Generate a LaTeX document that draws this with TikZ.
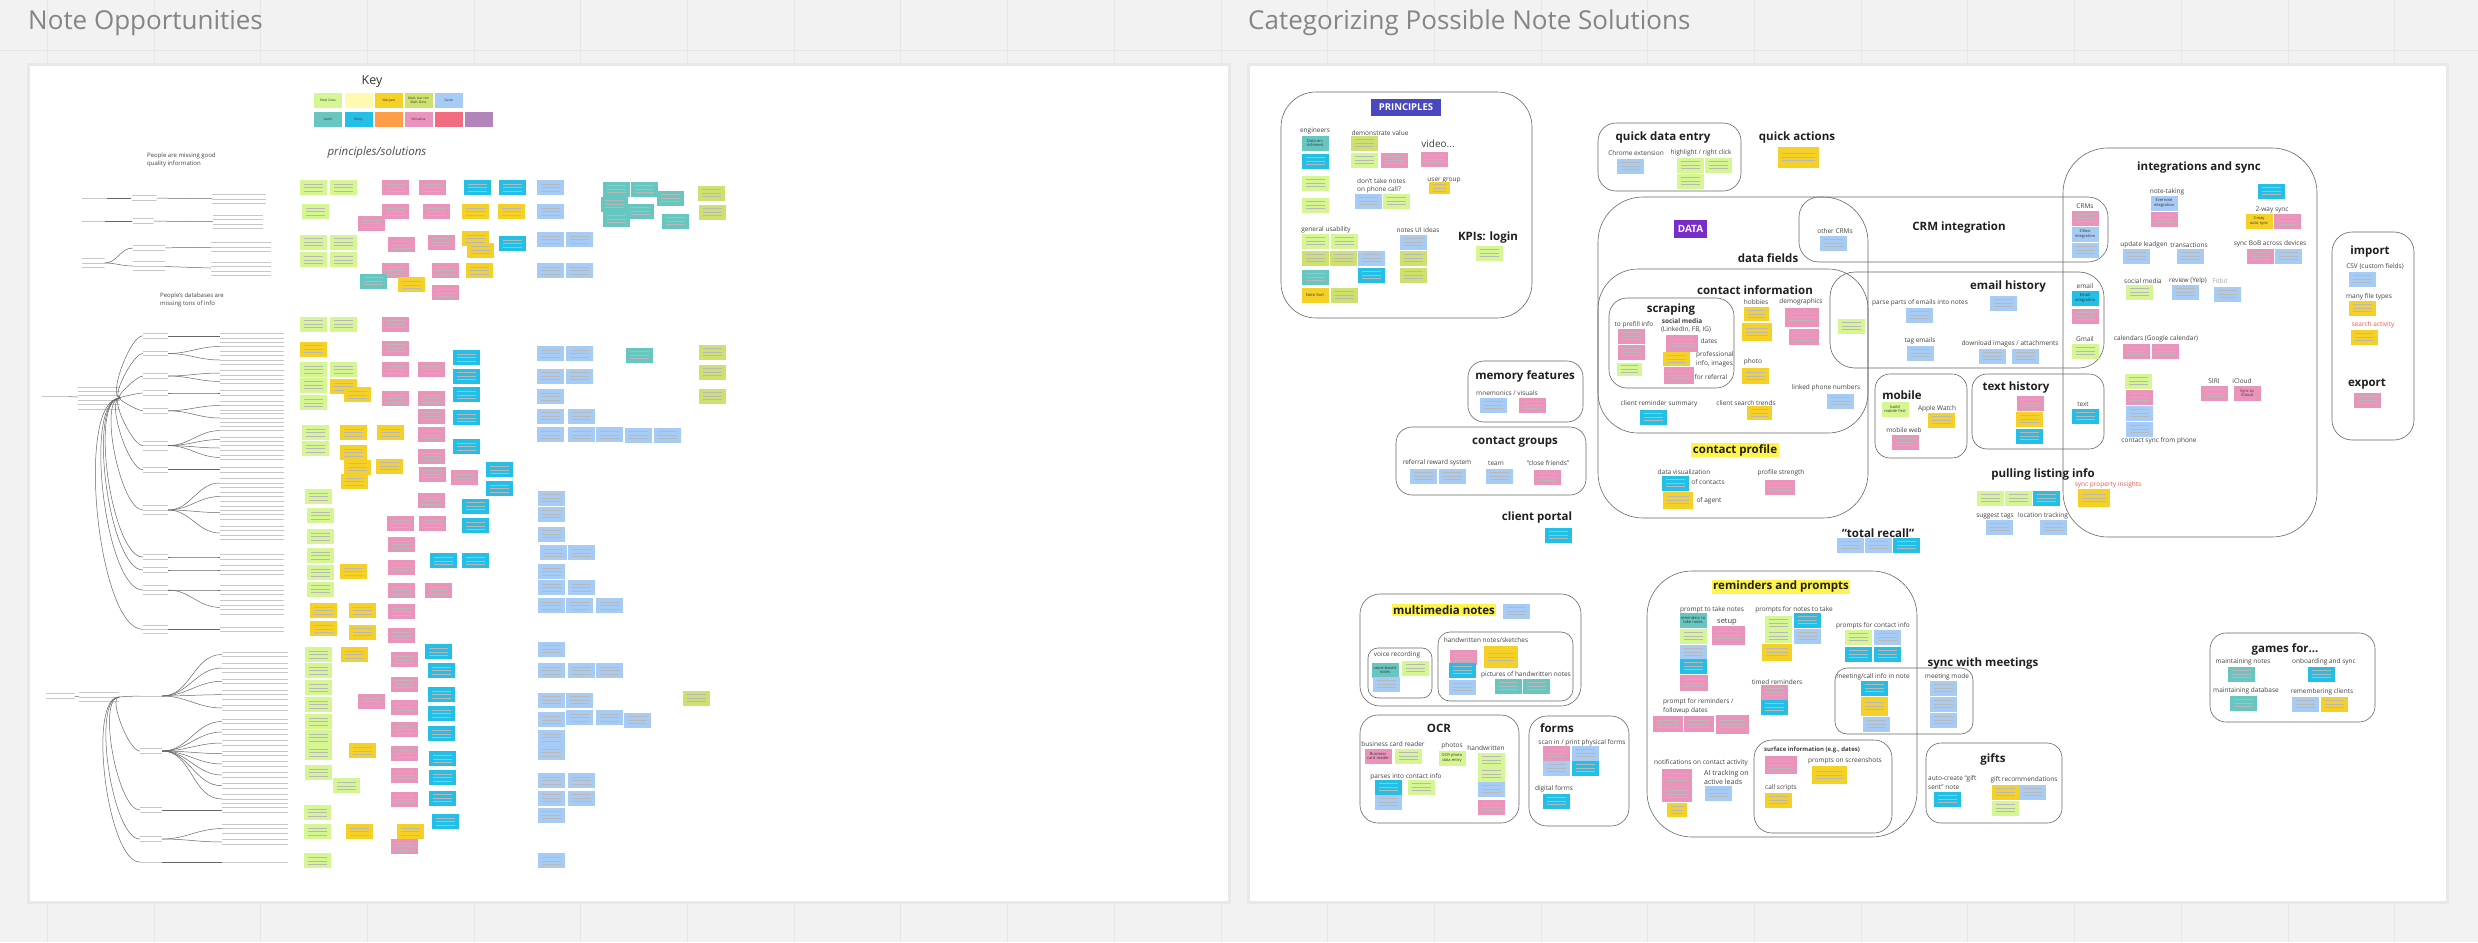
\documentclass[tikz,border=0pt]{standalone}
\usepackage{fontspec}
\setmainfont{Open Sans}
\usetikzlibrary{positioning}
\definecolor{boardGray}{RGB}{242,242,242}
\definecolor{gridGray}{RGB}{230,230,230}
\definecolor{nLime}{RGB}{213,246,146}
\definecolor{nOlive}{RGB}{206,224,110}
\definecolor{nCream}{RGB}{255,249,177}
\definecolor{nGold}{RGB}{245,209,40}
\definecolor{nSky}{RGB}{166,204,245}
\definecolor{nTeal}{RGB}{103,198,192}
\definecolor{nCyan}{RGB}{35,191,231}
\definecolor{nOrange}{RGB}{255,157,72}
\definecolor{nPink}{RGB}{234,148,187}
\definecolor{nRed}{RGB}{241,108,127}
\definecolor{nViolet}{RGB}{179,132,187}
\definecolor{hlYellow}{RGB}{255,243,77}
\definecolor{tagIndigo}{RGB}{73,72,189}
\definecolor{tagPurple}{RGB}{120,44,200}
\definecolor{warnRed}{RGB}{242,85,70}

\begin{document}
\begin{tikzpicture}[x=1pt,y=-1pt,
  note/.style={fill=#1,minimum width=27pt,minimum height=15pt,inner sep=0pt,
    path picture={\foreach \k in {-3.5,0,3.5}{\draw[black!28,line width=0.5pt]
      ([xshift=4pt,yshift=\k pt]path picture bounding box.west) --
      ([xshift=-4pt,yshift=\k pt]path picture bounding box.east);}}},
  tnote/.style={fill=#1,minimum width=27pt,minimum height=15pt,inner sep=0.5pt,
    text width=25pt,align=center,font=\fontsize{4}{4.8}\selectfont,text=black!80},
  keynote/.style={fill=#1,minimum width=28pt,minimum height=15pt,inner sep=0.5pt,
    text width=27pt,align=center,font=\fontsize{3.3}{3.8}\selectfont,text=black!80},
  stub/.style 2 args={fill=white,minimum width=#1pt,minimum height={#2*4.4pt},inner sep=0pt,
    path picture={\foreach \k in {1,...,#2}{\draw[black!22,line width=0.8pt]
      ([yshift={-(\k-0.5)*4.4pt}]path picture bounding box.north west) --
      ([yshift={-(\k-0.5)*4.4pt}]path picture bounding box.north east);}}},
  tree/.style={draw=black!60,line width=0.5pt},
  grp/.style={draw=black!60,line width=0.6pt},
  lbl/.style={font=\fontsize{6.5}{8.7}\selectfont,text=black!75,inner sep=0pt},
  hd/.style={font=\fontsize{11.5}{13}\selectfont\bfseries,text=black!88,inner sep=0pt},
  hl/.style={hd,fill=hlYellow,inner sep=1.5pt},
  tag/.style={fill=#1,text=white,font=\fontsize{9.5}{11}\selectfont\bfseries,inner sep=2.5pt},
  ttl/.style={font=\fontsize{26}{30}\selectfont,text=black!48,inner sep=0pt}]

% board
\useasboundingbox (0,0) rectangle (2478,942);
\fill[boardGray] (0,0) rectangle (2478,942);
\foreach \gx in {47,153.7,...,2478} \draw[gridGray] (\gx,0) -- (\gx,942);
\draw[gridGray] (0,50) -- (2478,50);

\node[ttl,anchor=base west] (ttlLeft) at (28,30) {Note Opportunities};
\node[ttl,anchor=base west] (ttlRight) at (1248,30) {Categorizing Possible Note Solutions};

\fill[black!9] (27,63) rectangle (1231,904);
\fill[white] (30,66) rectangle (1228,901);
\fill[black!9] (1247,63) rectangle (2449,904);
\fill[white] (1250,66) rectangle (2446,901);

%% ---------------- left frame ----------------
\node[font=\fontsize{12.5}{14}\selectfont,text=black!80,inner sep=0pt] (key) at (372,82) {Key};
\node[keynote=nLime] (kMatt) at (328,100.5) {Matt Goss};
\node[keynote=nCream] (kCream) at (358.5,100.5) {};
\node[keynote=nGold] (kMaryam) at (389,100.5) {Maryam};
\node[keynote=nOlive] (kMattB) at (418.5,100.5) {Matt, but not\\Matt Goss};
\node[keynote=nSky] (kSarah) at (449,100.5) {Sarah};
\node[keynote=nTeal] (kSamir) at (328,119.5) {Samir};
\node[keynote=nCyan] (kMolly) at (358.5,119.5) {Molly};
\node[keynote=nOrange] (kOrange) at (389,119.5) {};
\node[keynote=nPink] (kMona) at (418.5,119.5) {Monalisa};
\node[keynote=nRed] (kRed) at (449,119.5) {};
\node[keynote=nViolet] (kViolet) at (479,119.5) {};
\node[font=\fontsize{11.5}{13}\selectfont\itshape,text=black!70,inner sep=0pt] (princSol) at (377,153) {principles/solutions};

\node[lbl,font=\fontsize{6}{8}\selectfont,align=left,anchor=north west] (missGood) at (147,153) {People are missing good\\quality information};
\node[lbl,font=\fontsize{6}{8}\selectfont,align=left,anchor=north west] (missDb) at (160,293) {People's databases are\\missing tons of info};

% tree 1
\node[stub={25}{1}] (t1a) at (94,198) {};
\node[stub={25}{2}] (t1b) at (144,198) {};
\node[stub={54}{3}] (t1c) at (239,199) {};
\node[stub={23}{1}] (t1d) at (93,221) {};
\node[stub={21}{2}] (t1e) at (143,221) {};
\node[stub={50}{4}] (t1f) at (238,222) {};
\node[stub={23}{3}] (t1g) at (93,263) {};
\node[stub={32}{2}] (t1h) at (149,248) {};
\node[stub={32}{3}] (t1i) at (149,266) {};
\node[stub={60}{3}] (t1j) at (241,247) {};
\node[stub={60}{4}] (t1k) at (241,269) {};
\draw[tree] (t1a) -- (t1b);
\draw[tree] (t1b) -- (t1c);
\draw[tree] (t1d) -- (t1e);
\draw[tree] (t1e) -- (t1f);
\draw[tree] (t1g.east) to[out=0,in=180] (t1h.west);
\draw[tree] (t1g.east) to[out=0,in=180] (t1i.west);
\draw[tree] (t1h) -- (t1j);
\draw[tree] (t1i) -- (t1k);

% tree 2
\node[stub={27}{1}] (r2) at (55,396) {};
\node[stub={42}{6}] (b2) at (99,398) {};
\draw[tree] (r2) -- (b2);
\foreach \y/\n [count=\j] in {335.8/2,353.5/2,376/2,393/2,410.8/2,445.6/3,469.7/2,510/3,557/2,570/2,590/3,629.4/3}{
  \node[stub={25}{\n}] (q\j) at (155.5,\y) {};
  \draw[tree] (b2.east) to[out=180,in=180,looseness=0.5] (q\j.west);
}
\foreach \s/\y/\n [count=\k] in {1/335.8/2,2/346.5/3,2/360/3,3/373/2,3/381.4/2,4/393/2,5/405.5/3,5/418/3,
    6/430.6/3,6/439.5/2,6/448/2,6/457.4/2,7/469.7/2,8/483/3,8/496.5/3,8/512.6/4,8/533/4,9/557/2,10/570/3,
    11/590/3,11/607.4/4,12/629.4/2}{
  \node[stub={64}{\n}] (w\k) at (252,\y) {};
  \draw[tree] (q\s.east) to[out=0,in=180] (w\k.west);
}

% tree 3
\node[stub={29}{2}] (r3) at (60,696) {};
\node[stub={40}{3}] (b3) at (99,697) {};
\draw[tree] (r3) -- (b3);
\foreach \y/\n [count=\j] in {696/1,751/2,810/2,839/2,862/1}{
  \node[stub={22}{\n}] (u\j) at (151,\y) {};
  \draw[tree] (b3.east) to[out=180,in=180,looseness=0.5] (u\j.west);
}
\foreach \s/\y/\n [count=\k] in {1/654.5/2,1/668/3,1/681.3/2,1/694.7/3,1/708/2,2/721.5/2,2/732/2,2/743/2,
    2/753.6/2,2/764/2,2/775/2,2/785.7/2,2/799/3,3/810/2,4/828.6/3,4/842/2,5/862/1}{
  \node[stub={66}{\n}] (v\k) at (255,\y) {};
  \draw[tree] (u\s.east) to[out=0,in=180] (v\k.west);
}

% sticky notes, left frame
\foreach \x/\y/\c [count=\i] in {740/238/nLime,818/238/nLime,745/283/nLime,955/238/nPink,1052/238/nPink,
    1170/238/nCyan,1260/238/nCyan,1360/238/nSky,955/283/nPink,1062/283/nPink,893/305/nPink,1165/283/nGold,
    1258/283/nGold,1360/283/nSky,740/340/nLime,818/340/nLime,970/345/nPink,1075/340/nPink,1165/333/nGold,
    1178/355/nGold,1262/343/nCyan,1360/335/nSky,1435/335/nSky,740/373/nLime,818/373/nLime,955/393/nPink,
    1085/393/nPink,1175/393/nGold,1360/393/nSky,1435/393/nSky,897/413/nTeal,997/420/nGold,1085/435/nPink}
  \node[note=\c] (la\i) at ({30+\x/2.613},{60+\y/1.867}) {};
\foreach \x/\y/\c [count=\i] in {740/493/nLime,818/493/nLime,955/493/nPink,740/540/nGold,955/538/nPink,
    742/578/nLime,818/578/nLime,955/578/nPink,1050/578/nPink,1140/555/nCyan,1140/590/nCyan,1360/548/nSky,
    1435/548/nSky,818/610/nGold,855/625/nGold,742/607/nLime,1360/590/nSky,1435/590/nSky,955/632/nPink,
    1050/632/nPink,1140/625/nCyan,1360/628/nSky,742/640/nLime,1050/665/nPink,1140/668/nCyan,1360/665/nSky,
    1440/665/nSky,745/695/nLime,845/695/nGold,942/695/nGold,1050/700/nPink,1360/700/nSky,1440/700/nSky,
    1515/700/nSky,745/725/nLime,845/733/nGold,1050/740/nPink,1140/722/nCyan,855/760/nGold,940/758/nGold,
    1228/765/nCyan,848/787/nGold,1052/773/nPink,1135/780/nPink,1228/800/nCyan,755/815/nLime,1050/822/nPink,
    1362/818/nSky,1165/833/nCyan,1165/870/nCyan,758/850/nLime,967/865/nPink,1052/865/nPink,1362/848/nSky,
    758/890/nLime,970/905/nPink,1362/885/nSky,758/925/nLime,1080/935/nCyan,1165/935/nCyan,1368/920/nSky,
    1440/920/nSky,758/957/nLime,845/955/nGold,970/947/nPink,1362/955/nSky,758/988/nLime,970/990/nPink,
    1068/990/nPink,1362/985/nSky,1440/985/nSky,768/1028/nGold,870/1028/nGold,970/1030/nPink,1362/1018/nSky,
    1435/1018/nSky,1515/1018/nSky,768/1062/nGold,870/1068/nGold,970/1075/nPink}
  \node[note=\c] (lb\i) at ({30+\x/2.613},{60+\y/1.867}) {};
\foreach \x/\y/\c [count=\i] in {755/1110/nLime,848/1110/nGold,1068/1105/nCyan,1362/1100/nSky,978/1120/nPink,
    1075/1140/nCyan,755/1140/nLime,1362/1140/nSky,1440/1140/nSky,1515/1140/nSky,755/1172/nLime,978/1165/nPink,
    1075/1185/nCyan,893/1198/nPink,755/1203/nLime,1362/1195/nSky,1435/1195/nSky,978/1208/nPink,1075/1220/nCyan,
    755/1235/nLime,1362/1232/nSky,1435/1228/nSky,1515/1228/nSky,978/1250/nPink,1075/1258/nCyan,1362/1265/nSky,
    755/1265/nLime,755/1293/nLime,868/1290/nGold,978/1295/nPink,1362/1293/nSky,1078/1305/nCyan,755/1330/nLime,
    978/1335/nPink,1078/1340/nCyan,828/1355/nLime,1362/1345/nSky,1440/1345/nSky,978/1380/nPink,1078/1378/nCyan,
    1362/1378/nSky,1440/1378/nSky,752/1405/nLime,1362/1410/nSky,752/1440/nLime,862/1440/nGold,993/1440/nGold,
    1085/1422/nCyan,978/1468/nPink,750/1495/nLime,1362/1495/nSky}
  \node[note=\c] (lc\i) at ({30+\x/2.613},{60+\y/1.867}) {};
\foreach \x/\y/\c [count=\i] in {616/189/nTeal,644/189/nTeal,670/198/nTeal,614/204/nTeal,640/211/nTeal,
    616/219/nTeal,675/221/nTeal,711/193/nOlive,712/212/nOlive,639/355/nTeal,712/352/nOlive,712/372/nOlive,
    712/396/nOlive,638/435/nSky,667/435/nSky,696/698/nOlive,637/720/nSky}
  \node[note=\c] (ld\i) at (\x,\y) {};

%% ---------------- right frame ----------------
% group outlines
\draw[grp,rounded corners=35pt] (1281,92) rectangle (1532,318);
\draw[grp,rounded corners=18pt] (1598,123) rectangle (1741,191);
\draw[grp,rounded corners=45pt] (1598,197) rectangle (1868,518);
\draw[grp,rounded corners=20pt] (1799,197) rectangle (2108,262);
\draw[grp,rounded corners=25pt] (1830,272) rectangle (2104,368);
\draw[grp,rounded corners=45pt] (2063,148) rectangle (2317,537);
\draw[grp,rounded corners=40pt] (1598,269) rectangle (1868,433);
\draw[grp,rounded corners=18pt] (1609,298) rectangle (1734,388);
\draw[grp,rounded corners=15pt] (1875,374) rectangle (1967,458);
\draw[grp,rounded corners=15pt] (1972,374) rectangle (2104,449);
\draw[grp,rounded corners=20pt] (2332,232) rectangle (2414,440);
\draw[grp,rounded corners=16pt] (1468,361) rectangle (1583,422);
\draw[grp,rounded corners=16pt] (1396,427) rectangle (1586,495);
\draw[grp,rounded corners=20pt] (1360,594) rectangle (1581,706);
\draw[grp,rounded corners=10pt] (1368,648) rectangle (1432,698);
\draw[grp,rounded corners=12pt] (1438,632) rectangle (1573,701);
\draw[grp,rounded corners=18pt] (1360,715) rectangle (1519,823);
\draw[grp,rounded corners=18pt] (1529,716) rectangle (1629,826);
\draw[grp,rounded corners=45pt] (1647,571) rectangle (1917,837);
\draw[grp,rounded corners=18pt] (1754,740) rectangle (1892,833);
\draw[grp,rounded corners=12pt] (1835,668) rectangle (1973,734);
\draw[grp,rounded corners=15pt] (1926,743) rectangle (2062,823);
\draw[grp,rounded corners=16pt] (2210,633) rectangle (2375,722);

% principles
\node[tag=tagIndigo,minimum width=70pt,minimum height=17pt] (principles) at (1406,107.5) {PRINCIPLES};
\node[lbl] (engineers) at (1315,131) {engineers};
\node[lbl] (demoValue) at (1380,133) {demonstrate value};
\node[lbl,font=\fontsize{10}{11}\selectfont] (video) at (1438,144) {video...};
\node[lbl,align=left,anchor=north west] (phoneCall) at (1357,178) {don't take notes\\on phone call?};
\node[lbl] (userGroup) at (1444,181) {user group};
\node[lbl] (usability) at (1326,230) {general usability};
\node[lbl] (uiIdeas) at (1418,230) {notes UI ideas};
\node[hd] (kpis) at (1488,238) {KPIs: login};
\node[tnote=nTeal] (dataEnrich) at (1315,143) {Data enrichment};
\node[tnote=nGold] (noteSort) at (1315,295) {Note Sort};
\foreach \x/\y/\c [count=\i] in {1315/161/nCyan,1315/183/nLime,1315/205/nLime,1364/143/nOlive,1364/160/nLime,
    1394/160/nPink,1434/159/nPink,1368/201/nSky,1396/201/nLime,1315/241/nLime,1344/241/nLime,1315/258/nOlive,
    1343/258/nOlive,1371/258/nSky,1315/277/nTeal,1371/275/nCyan,1344/295/nOlive,1413/242/nSky,1413/258/nOlive,
    1413/275/nOlive,1489/253/nLime}
  \node[note=\c] (pr\i) at (\x,\y) {};
\node[note=nGold,minimum width=21pt,minimum height=12pt] (userNote) at (1439,188) {};

% quick data entry, quick actions
\node[hd] (quickEntry) at (1663,138) {quick data entry};
\node[lbl] (chromeExt) at (1636,153) {Chrome extension};
\node[lbl] (highlight) at (1701,153) {highlight / right click};
\node[note=nSky] (qe1) at (1630,166) {};
\node[note=nLime] (qe2) at (1690,165) {};
\node[note=nLime] (qe3) at (1718,165) {};
\node[note=nLime] (qe4) at (1690,181) {};
\node[hd] (quickAct) at (1797,138) {quick actions};
\node[note=nGold,minimum width=41pt,minimum height=21pt] (qa1) at (1798,157) {};

% data
\node[tag=tagPurple,minimum width=33pt,minimum height=18pt,font=\fontsize{10}{11}\selectfont\bfseries] (data) at (1690.5,229) {DATA};
\node[hd] (dataFields) at (1768,258) {data fields};
\node[hd] (crmInt) at (1959,228) {CRM integration};
\node[lbl] (otherCrm) at (1835,231) {other CRMs};
\node[note=nSky] (oc1) at (1833,243) {};
\node[lbl] (crms) at (2085,206) {CRMs};
\node[note=nPink] (cr1) at (2085,218) {};
\node[tnote=nSky] (zillow) at (2085,234) {Zillow integration};
\node[note=nSky] (cr2) at (2085,250) {};

% email history
\node[hd] (emailHist) at (2008,287) {email history};
\node[lbl] (parseMail) at (1920,303) {parse parts of emails into notes};
\node[lbl] (tagMail) at (1920,341) {tag emails};
\node[lbl] (download) at (2010,344) {download images / attachments};
\node[lbl] (emailLbl) at (2085,286) {email};
\node[lbl] (gmail) at (2085,339) {Gmail};
\node[tnote=nCyan] (emailInt) at (2085,298) {Email integration};
\foreach \x/\y/\c [count=\i] in {1851/326/nLime,1919/315/nSky,2003/303/nSky,1920/353/nSky,1992/356/nSky,
    2025/356/nSky,2085/316/nPink,2085/351/nLime}
  \node[note=\c] (em\i) at (\x,\y) {};

% contact information
\node[hd] (contactInfo) at (1755,290) {contact information};
\node[hd] (scraping) at (1671,310) {scraping};
\node[lbl] (prefill) at (1634,325) {to prefill info};
\node[lbl,font=\fontsize{6.5}{8}\selectfont\bfseries] (socialScr) at (1682,321) {social media};
\node[lbl] (linkedin) at (1686,330) {(LinkedIn, FB, IG)};
\node[lbl] (dates) at (1709,341) {dates};
\node[lbl,align=left,anchor=north west] (profInfo) at (1696,351.5) {professional\\info, images};
\node[lbl] (referral) at (1711,377) {for referral};
\node[lbl] (hobbies) at (1756,302) {hobbies};
\node[lbl] (demog) at (1801,302) {demographics};
\node[lbl] (photo) at (1753,362) {photo};
\node[lbl] (phones) at (1826,388) {linked phone numbers};
\node[lbl] (remSummary) at (1659,404) {client reminder summary};
\node[lbl] (searchTrends) at (1746,403) {client search trends};
\foreach \x/\y/\c/\w/\h [count=\i] in {1631/336/nPink/27/15,1631/352/nPink/27/15,1629/369/nLime/25/13,
    1682/343/nPink/32/17,1676/359/nGold/27/14,1679/375/nPink/30/17,1756/314/nGold/25/14,1757/332/nGold/30/18,
    1802/317/nPink/34/19,1804/337/nPink/30/16,1755/376/nGold/27/16,1840/401/nSky/27/15,1653/417/nCyan/27/15,
    1759/413/nGold/25/14}
  \node[note=\c,minimum width=\w pt,minimum height=\h pt] (ci\i) at (\x,\y) {};

% contact profile
\node[hl] (profile) at (1735,450) {contact profile};
\node[lbl] (dataViz) at (1684,472) {data visualization};
\node[lbl] (ofContacts) at (1708,482) {of contacts};
\node[lbl] (ofAgent) at (1709,501) {of agent};
\node[lbl] (strength) at (1781,473) {profile strength};
\node[note=nCyan] (cp1) at (1675,483) {};
\node[note=nGold,minimum width=30pt,minimum height=17pt] (cp2) at (1678,500) {};
\node[note=nPink,minimum width=30pt] (cp3) at (1780,487) {};

% mobile, text history
\node[hd] (mobile) at (1902,395) {mobile};
\node[tnote=nLime] (mobileFirst) at (1895,409) {build mobile first};
\node[lbl] (watch) at (1937,409) {Apple Watch};
\node[note=nGold] (mo1) at (1941,420) {};
\node[lbl] (mobileWeb) at (1904,430) {mobile web};
\node[note=nPink] (mo2) at (1905,442) {};
\node[hd] (textHist) at (2016,388) {text history};
\node[note=nPink] (th1) at (2030,403) {};
\node[note=nGold] (th2) at (2029,419) {};
\node[note=nCyan] (th3) at (2029,436) {};
\node[lbl] (textLbl) at (2083,404) {text};
\node[note=nCyan] (th4) at (2085,416) {};

% pulling listing info, total recall
\node[hd] (listing) at (2043,474) {pulling listing info};
\node[lbl,text=warnRed] (propInsight) at (2108,485) {sync property insights};
\node[note=nLime] (pl1) at (1990,498) {};
\node[note=nLime] (pl2) at (2018,498) {};
\node[note=nCyan] (pl3) at (2046,498) {};
\node[note=nGold,minimum width=32pt,minimum height=18pt] (pl4) at (2094,498) {};
\node[lbl] (sugTags) at (1995,516) {suggest tags};
\node[lbl] (location) at (2043,516) {location tracking};
\node[note=nSky] (pl5) at (1999,527) {};
\node[note=nSky] (pl6) at (2053,527) {};
\node[hd] (recall) at (1878,533) {``total recall''};
\node[note=nSky] (tr1) at (1850,545) {};
\node[note=nSky] (tr2) at (1878,545) {};
\node[note=nCyan] (tr3) at (1906,545) {};

% integrations and sync
\node[hd] (integ) at (2199,168) {integrations and sync};
\node[lbl] (noteTaking) at (2167,192) {note-taking};
\node[tnote=nSky] (evernote) at (2164,203) {Evernote integration};
\node[lbl] (twoWay) at (2272,210) {2-way sync};
\node[tnote=nGold] (autoSync) at (2259,221) {2-way auto sync};
\node[lbl] (leadgen) at (2144,245) {update leadgen};
\node[lbl] (transact) at (2189,245) {transactions};
\node[lbl] (bob) at (2270,244) {sync BoB across devices};
\node[lbl] (socialInt) at (2143,281) {social media};
\node[lbl] (yelp) at (2188,281) {review (Yelp)};
\node[lbl,text=black!35] (fitbit) at (2220,281) {Fitbit};
\node[lbl] (calendars) at (2156,339) {calendars (Google calendar)};
\node[lbl] (siri) at (2214,381) {SIRI};
\node[lbl] (icloud) at (2242,381) {iCloud};
\node[tnote=nPink] (syncCloud) at (2247,393) {Sync to iCloud};
\node[lbl] (phoneSync) at (2159,441) {contact sync from phone};
\foreach \x/\y/\c [count=\i] in {2164/219/nPink,2271/191/nCyan,2287/221/nPink,2136/256/nSky,2190/256/nSky,
    2260/256/nPink,2288/256/nSky,2139/292/nLime,2185/292/nSky,2227/294/nSky,2136/351/nPink,2165/351/nPink,
    2138/381/nLime,2139/397/nPink,2139/413/nSky,2139/429/nSky,2214/393/nPink}
  \node[note=\c] (is\i) at (\x,\y) {};

% import / export
\node[hd] (import) at (2370,252) {import};
\node[lbl] (csv) at (2375,267) {CSV (custom fields)};
\node[note=nSky] (ie1) at (2362,279) {};
\node[lbl] (fileTypes) at (2369,297) {many file types};
\node[note=nGold] (ie2) at (2362,308) {};
\node[lbl,text=warnRed] (searchAct) at (2373,325) {search activity};
\node[note=nGold] (ie3) at (2364,337) {};
\node[hd] (export) at (2367,384) {export};
\node[note=nPink] (ie4) at (2367,400) {};

% memory features, contact groups, client portal
\node[hd] (memory) at (1525,376) {memory features};
\node[lbl] (mnemonics) at (1507,393) {mnemonics / visuals};
\node[note=nSky] (mf1) at (1493,405) {};
\node[note=nPink] (mf2) at (1532,405) {};
\node[hd] (groups) at (1515,442) {contact groups};
\node[lbl] (rewards) at (1437,463) {referral reward system};
\node[lbl] (team) at (1496,463) {team};
\node[lbl] (friends) at (1548,463) {``close friends''};
\node[note=nSky] (cg1) at (1423,476) {};
\node[note=nSky] (cg2) at (1452,476) {};
\node[note=nSky] (cg3) at (1499,476) {};
\node[note=nPink] (cg4) at (1547,477) {};
\node[hd] (portal) at (1537,518) {client portal};
\node[note=nCyan] (cpo) at (1558,535) {};

% multimedia notes
\node[hl] (multimedia) at (1444,610) {multimedia notes};
\node[note=nSky] (mm1) at (1516,611) {};
\node[lbl] (voice) at (1397,655) {voice recording};
\node[tnote=nTeal] (voiceNotes) at (1385,670) {voice-based notes};
\node[note=nLime] (mm2) at (1415,668) {};
\node[note=nSky] (mm3) at (1386,684) {};
\node[lbl] (handNotes) at (1486,640) {handwritten notes/sketches};
\node[note=nPink] (mm4) at (1463,657) {};
\node[note=nCyan] (mm5) at (1462,670) {};
\node[note=nSky] (mm6) at (1462,687) {};
\node[note=nGold,minimum width=34pt,minimum height=22pt] (mm7) at (1501,657) {};
\node[lbl] (handPics) at (1526,675) {pictures of handwritten notes};
\node[note=nTeal] (mm8) at (1508,686) {};
\node[note=nTeal] (mm9) at (1536,686) {};

% OCR, forms
\node[hd] (ocr) at (1439,728) {OCR};
\node[lbl] (cardReader) at (1393,744) {business card reader};
\node[tnote=nPink] (bizCard) at (1378,756) {Business card reader};
\node[lbl] (photos) at (1452,746) {photos};
\node[tnote=nLime] (ocrPhoto) at (1452,758) {OCR photo data entry};
\node[lbl] (handwritten) at (1486,748) {handwritten};
\node[lbl] (parsesInto) at (1406,777) {parses into contact info};
\foreach \x/\y/\c [count=\i] in {1408/756/nLime,1491/760/nLime,1491/774/nLime,1491/789/nSky,1491/807/nPink,
    1388/787/nCyan,1421/787/nLime,1388/802/nSky}
  \node[note=\c] (oc\i) at (\x,\y) {};
\node[hd] (forms) at (1557,728) {forms};
\node[lbl] (scanIn) at (1582,743) {scan in / print physical forms};
\node[lbl] (digital) at (1554,789) {digital forms};
\foreach \x/\y/\c [count=\i] in {1556/753/nPink,1585/753/nSky,1556/768/nSky,1585/768/nCyan,1556/801/nCyan}
  \node[note=\c] (fo\i) at (\x,\y) {};

% reminders and prompts
\node[hl] (reminders) at (1781,587) {reminders and prompts};
\node[lbl] (promptTake) at (1712,610) {prompt to take notes};
\node[lbl,font=\fontsize{7.5}{9}\selectfont] (setup) at (1727,622) {setup};
\node[lbl] (promptsFor) at (1794,610) {prompts for notes to take};
\node[lbl] (promptsInfo) at (1873,626) {prompts for contact info};
\node[lbl] (timed) at (1777,682) {timed reminders};
\node[lbl,align=left,anchor=north west] (followup) at (1663,698.5) {prompt for reminders /\\followup dates};
\node[lbl] (notifs) at (1701,763) {notifications on contact activity};
\node[lbl,font=\fontsize{7}{9}\selectfont,align=left,anchor=north west] (aiTrack) at (1704,769.5) {AI tracking on\\active leads};
\node[lbl,font=\fontsize{6}{8}\selectfont\bfseries] (surface) at (1812,750) {surface information (e.g., dates)};
\node[lbl] (screenshots) at (1845,761) {prompts on screenshots};
\node[lbl] (callScripts) at (1781,788) {call scripts};
\node[tnote=nTeal] (remindTake) at (1693,620) {reminders to take notes};
\foreach \x/\y/\c/\w/\h [count=\i] in {1693/636/nLime/27/15,1693/652/nSky/27/15,1693/666/nCyan/27/15,
    1694/683/nPink/28/16,1728/635/nPink/33/19,1778/623/nLime/27/15,1807/620/nCyan/27/15,1778/636/nLime/27/13,
    1807/636/nSky/27/15,1777/652/nGold/30/17,1858/637/nLime/27/15,1887/637/nSky/27/15,1858/654/nCyan/27/15,
    1887/654/nCyan/27/15,1774/692/nPink/27/15,1774/707/nCyan/27/15,1668/724/nPink/30/16,1699/724/nPink/30/16,
    1732/724/nPink/33/19,1677/777/nPink/30/17,1677/794/nPink/30/16,1677/810/nGold/20/14,1718/793/nSky/27/15,
    1781/765/nPink/32/18,1829/775/nGold/35/18,1778/800/nGold/27/15}
  \node[note=\c,minimum width=\w pt,minimum height=\h pt] (rp\i) at (\x,\y) {};

% sync with meetings, gifts
\node[hd] (meetings) at (1983,664) {sync with meetings};
\node[lbl] (callInfo) at (1873,677) {meeting/call info in note};
\node[lbl] (meetMode) at (1947,677) {meeting mode};
\foreach \x/\y/\c/\h [count=\i] in {1874/688/nCyan/15,1874/706/nGold/19,1876/724/nSky/15,1943/688/nSky/15,
    1943/704/nSky/15,1943/720/nSky/15}
  \node[note=\c,minimum height=\h pt] (sm\i) at (\x,\y) {};
\node[hd] (gifts) at (1993,759) {gifts};
\node[lbl,align=left,anchor=north west] (giftSent) at (1928,775.5) {auto-create ``gift\\sent'' note};
\node[lbl] (giftRec) at (2024,780) {gift recommendations};
\node[note=nCyan] (gf1) at (1947,799) {};
\node[note=nGold] (gf2) at (2005,792) {};
\node[note=nSky] (gf3) at (2032,792) {};
\node[note=nLime] (gf4) at (2005,808) {};

% games for...
\node[hd] (games) at (2285,649) {games for...};
\node[lbl] (gNotes) at (2243,662) {maintaining notes};
\node[lbl] (gOnboard) at (2324,662) {onboarding and sync};
\node[lbl] (gDatabase) at (2246,691) {maintaining database};
\node[lbl] (gClients) at (2322,692) {remembering clients};
\node[note=nTeal] (gm1) at (2241,674) {};
\node[note=nCyan] (gm2) at (2321,674) {};
\node[note=nTeal] (gm3) at (2243,703) {};
\node[note=nSky] (gm4) at (2305,704) {};
\node[note=nGold] (gm5) at (2334,704) {};
\end{tikzpicture}
\end{document}
